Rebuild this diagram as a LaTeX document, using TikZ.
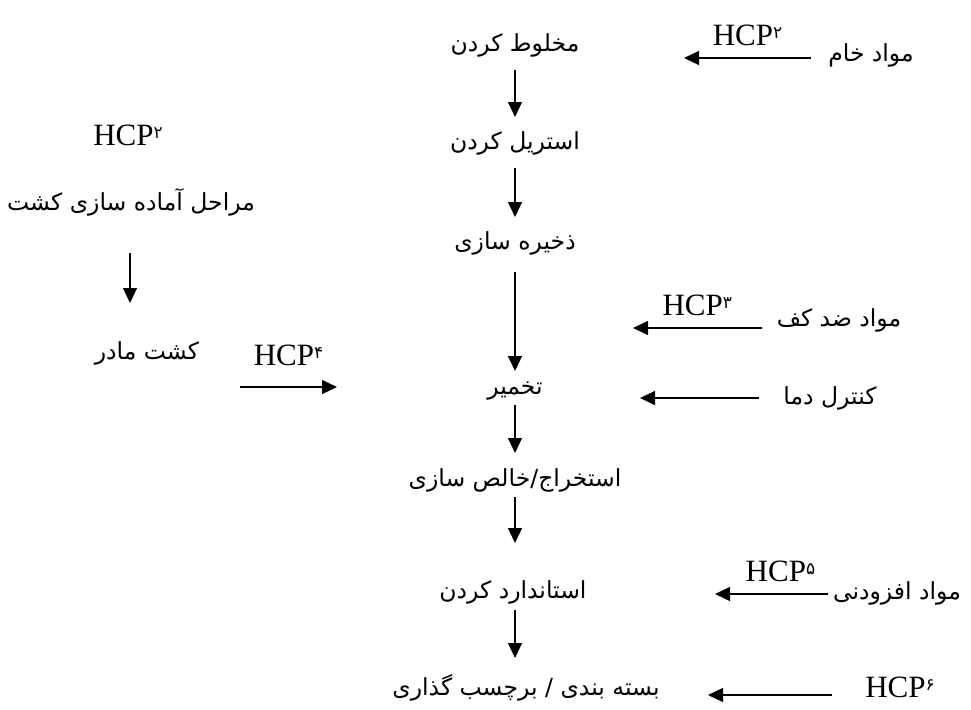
\documentclass[tikz,border=0pt]{standalone}
\usepackage{fontspec}
\setmainfont{Liberation Serif}
\newfontfamily\arabicfont[Script=Arabic]{DejaVu Sans}
\TeXXeTstate=1
\usetikzlibrary{arrows.meta,calc}
\newcommand{\fa}[1]{{\arabicfont\beginR #1\endR}}
\newcommand{\hcp}[1]{HCP\raisebox{7pt}{\arabicfont\fontsize{17}{17}\selectfont#1}}
\begin{document}
\begin{tikzpicture}[x=1pt,y=-1pt,
		fatxt/.style={font=\fontsize{23.5}{26}\selectfont,inner sep=0pt},
		hcptxt/.style={font=\fontsize{31}{34}\selectfont,inner sep=0pt},
		flow/.style={line width=1.2pt,-{Triangle[length=15pt,width=14pt]}}]
		\useasboundingbox (0,0) rectangle (971,709);
		% main line
		\node[fatxt] (mix)  at (515,45)  {\fa{مخلوط کردن}};
		\node[fatxt] (ster) at (515,143) {\fa{استریل کردن}};
		\node[fatxt] (stor) at (515,243) {\fa{ذخیره سازی}};
		\node[fatxt] (ferm) at (515,391) {\fa{تخمیر}};
		\node[fatxt] (extr) at (515,480) {\fa{استخراج/خالص سازی}};
		\node[fatxt] (std)  at (513,592) {\fa{استاندارد کردن}};
		\node[fatxt] (pack) at (526,688) {\fa{بسته بندی / برچسب گذاری}};
		\foreach \a/\b/\s/\t in {mix/ster/25/26, ster/stor/25/26, stor/ferm/29/20, ferm/extr/14/27, extr/std/17/49, std/pack/18/30}
			\draw[flow] ($(mix |- \a)+(0,\s)$) -- ($(mix |- \b)+(0,-\t)$);
		% inputs on the right
		\node[fatxt] (raw)  at (871,55)  {\fa{مواد خام}};
		\node[fatxt] (foam) at (839,320) {\fa{مواد ضد کف}};
		\node[fatxt] (temp) at (830,398) {\fa{کنترل دما}};
		\node[fatxt] (addv) at (897,593) {\fa{مواد افزودنی}};
		\node[hcptxt] (hcpsix) at (900,687) {\hcp{۶}};
		\coordinate (mixin)  at (684,58);
		\coordinate (foamin) at (633,328);
		\coordinate (tempin) at (640,398);
		\coordinate (stdin)  at (715,594);
		\coordinate (packin) at (708,695);
		\draw[flow] ($(raw.west |- mixin)+(-17,0)$) -- node[hcptxt,above=12pt] {\hcp{۲}} (mixin);
		\draw[flow] ($(foam.west |- foamin)+(-15,0)$) -- node[hcptxt,above=12pt] {\hcp{۳}} (foamin);
		\draw[flow] ($(temp.west |- tempin)+(-24,0)$) -- (tempin);
		\draw[flow] ($(addv.west |- stdin)+(-5,0)$) -- node[hcptxt,above=12pt,xshift=9pt] {\hcp{۵}} (stdin);
		\draw[flow] ($(hcpsix.west |- packin)+(-33,0)$) -- (packin);
		% culture on the left
		\node[hcptxt] (hcpl) at (128,135) {\hcp{۲}};
		\node[fatxt] (prep) at (131,202) {\fa{مراحل آماده سازی کشت}};
		\node[fatxt] (mother) at (147,353) {\fa{کشت مادر}};
		\draw[flow] ($(prep)+(-1,51)$) -- ($(prep |- mother)+(-1,-50)$);
		\coordinate (cultout) at (240,387);
		\coordinate (cultin)  at (337,387);
		\draw[flow] (cultout) -- node[hcptxt,above=21pt] {\hcp{۴}} (cultin);
\end{tikzpicture}
\end{document}
